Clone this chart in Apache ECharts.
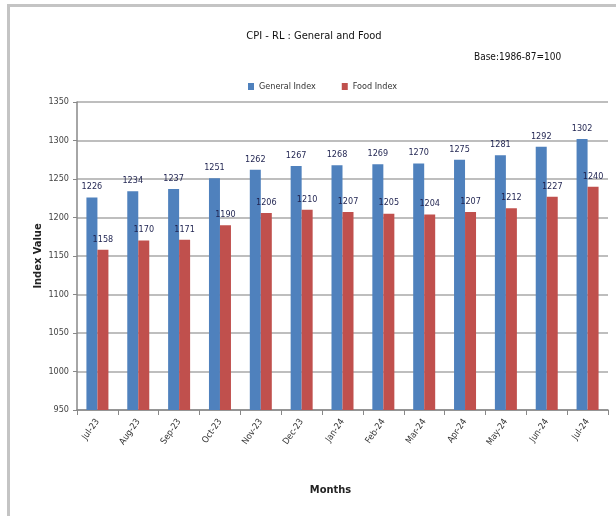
<!DOCTYPE html>
<html>
<head>
<meta charset="utf-8">
<script src="https://cdn.jsdelivr.net/npm/echarts@6/dist/echarts.min.js"></script>
<style>html,body{margin:0;padding:0;background:#fff;}#c{width:616px;height:516px;}</style>
</head>
<body>
<div id="c"></div>
<script>
const months = ['Jul-23','Aug-23','Sep-23','Oct-23','Nov-23','Dec-23','Jan-24','Feb-24','Mar-24','Apr-24','May-24','Jun-24','Jul-24'];
const generalIndex = [1226,1234,1237,1251,1262,1267,1268,1269,1270,1275,1281,1292,1302];
const foodIndex = [1158,1170,1171,1190,1206,1210,1207,1205,1204,1207,1212,1227,1240];
const yTicks = {min: 950, max: 1350, interval: 50};

const FONT = "'Liberation Sans Narrow','DejaVu Sans Condensed','Liberation Sans',sans-serif";
const chart = echarts.init(document.getElementById('c'));
const labelStyle = {show: true, position: 'top', distance: 6, fontSize: 9, color: '#1f2350', fontFamily: FONT};
chart.setOption({
  animation: false,
  textStyle: {fontFamily: FONT},
  title: [
    {text: 'CPI - RL : General and Food', left: 309, top: 26, textAlign: 'center',
     textStyle: {fontSize: 11, fontWeight: 'normal', color: '#111', fontFamily: FONT}},
    {text: 'Base:1986-87=100', left: 469, top: 47,
     textStyle: {fontSize: 10, fontWeight: 'normal', color: '#111', fontFamily: FONT}}
  ],
  legend: {
    top: 77, left: 243, itemWidth: 6, itemHeight: 7, itemGap: 26,
    icon: 'rect',
    textStyle: {fontSize: 9, color: '#333', fontFamily: FONT},
    data: ['General Index', 'Food Index']
  },
  graphic: [
    {type: 'rect', shape: {x: 7, y: 4, width: 3, height: 512}, style: {fill: '#c4c4c4'}},
    {type: 'rect', shape: {x: 7, y: 4, width: 609, height: 3}, style: {fill: '#c4c4c4'}}
  ],
  grid: {left: 77, right: 8, top: 102, bottom: 106},
  xAxis: {
    type: 'category', data: months,
    name: 'Months', nameLocation: 'middle', nameGap: 75,
    nameTextStyle: {fontSize: 11, fontWeight: 'bold', color: '#222', fontFamily: FONT, padding: [0, 24, 0, 0]},
    axisLine: {lineStyle: {color: '#888', width: 1.5}},
    axisTick: {show: true, length: 5, lineStyle: {color: '#888'}},
    axisLabel: {rotate: 55, fontSize: 9, color: '#333', margin: 10, fontFamily: FONT}
  },
  yAxis: {
    type: 'value', min: yTicks.min, max: yTicks.max, interval: yTicks.interval,
    name: 'Index Value', nameLocation: 'middle', nameGap: 33, nameMoveOverlap: false,
    nameTextStyle: {fontSize: 11, fontWeight: 'bold', color: '#222', fontFamily: FONT},
    axisLine: {show: true, lineStyle: {color: '#888', width: 1.5}},
    axisTick: {show: true, length: 4, lineStyle: {color: '#888'}},
    axisLabel: {fontSize: 9, color: '#444', margin: 8, fontFamily: FONT, formatter: v => String(v)},
    splitLine: {lineStyle: {color: '#a8a8a8', width: 1.5}}
  },
  series: [
    {name: 'General Index', type: 'bar', data: generalIndex, barWidth: 11, barGap: '0%',
     itemStyle: {color: '#4f81bd'}, label: labelStyle},
    {name: 'Food Index', type: 'bar', data: foodIndex, barWidth: 11, barGap: '0%',
     itemStyle: {color: '#c0504d'}, label: labelStyle}
  ]
});
</script>
</body>
</html>
